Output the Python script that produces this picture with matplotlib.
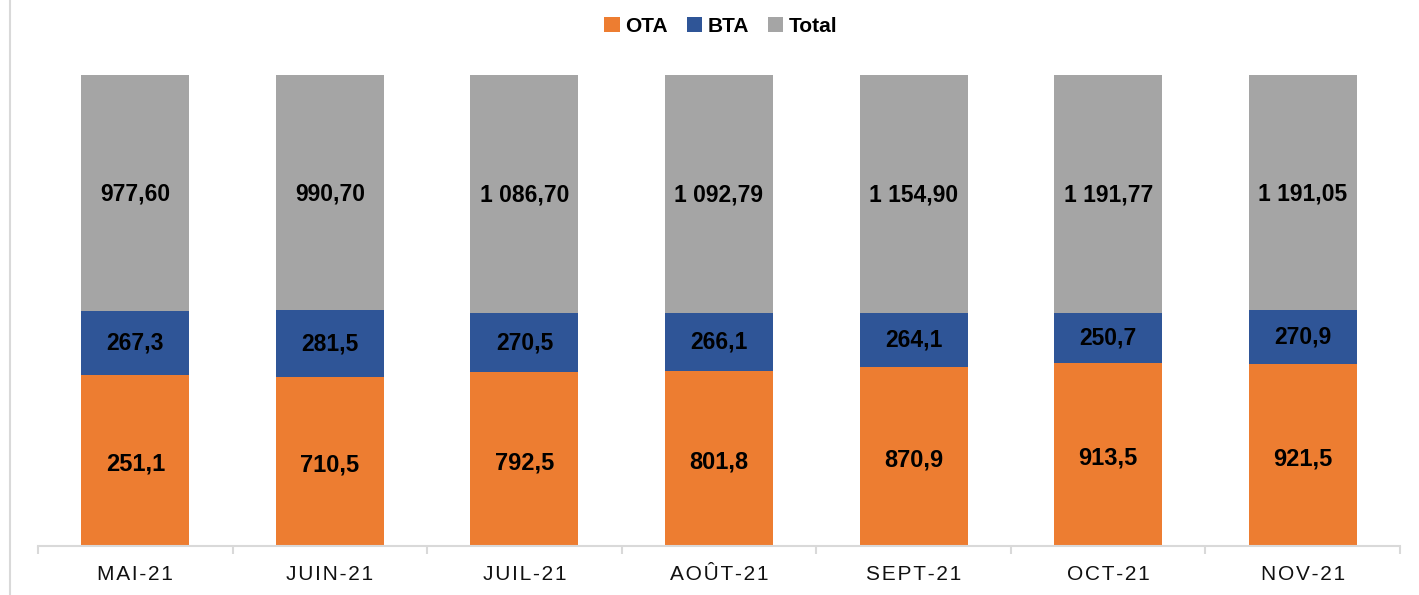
import numpy as np
import matplotlib.pyplot as plt
from matplotlib.lines import Line2D

months = ['MAI-21', 'JUIN-21', 'JUIL-21', 'AOÛT-21', 'SEPT-21', 'OCT-21', 'NOV-21']
# values used for the bar heights (100% stacked)
ota = [710.3, 710.5, 792.5, 801.8, 870.9, 913.5, 921.5]
bta = [267.3, 281.5, 270.5, 266.1, 264.1, 250.7, 270.9]
total = [977.60, 990.70, 1086.70, 1092.79, 1154.90, 1191.77, 1191.05]
# labels as printed on the chart
ota_labels = ['251,1', '710,5', '792,5', '801,8', '870,9', '913,5', '921,5']
bta_labels = ['267,3', '281,5', '270,5', '266,1', '264,1', '250,7', '270,9']
total_labels = ['977,60', '990,70', '1 086,70', '1 092,79', '1 154,90', '1 191,77', '1 191,05']

plt.rcParams['font.family'] = ['Liberation Sans', 'DejaVu Sans']

c_ota = '#ED7D31'
c_bta = '#2F5597'
c_tot = '#A5A5A5'

ota = np.array(ota)
bta = np.array(bta)
total = np.array(total)
s = ota + bta + total
p_ota = ota / s
p_bta = bta / s
p_tot = total / s

fig = plt.figure(figsize=(14.19, 5.95), dpi=100)
ax = fig.add_axes([38 / 1419, 1 - 546 / 595, (1400 - 38) / 1419, (546 - 75) / 595])
x = np.arange(len(months))
w = 0.555
ax.bar(x, p_ota, w, color=c_ota, label='OTA')
ax.bar(x, p_bta, w, bottom=p_ota, color=c_bta, label='BTA')
ax.bar(x, p_tot, w, bottom=p_ota + p_bta, color=c_tot, label='Total')

for i in range(len(months)):
    ax.text(x[i], p_ota[i] * 0.48, ota_labels[i], ha='center', va='center',
            fontsize=17, fontweight='bold')
    ax.text(x[i], p_ota[i] + p_bta[i] / 2, bta_labels[i], ha='center', va='center',
            fontsize=16.5, fontweight='bold')
    ax.text(x[i], p_ota[i] + p_bta[i] + p_tot[i] * 0.495, total_labels[i], ha='center', va='center',
            fontsize=16.5, fontweight='bold')

ax.set_xlim(-0.5, len(months) - 0.5)
ax.set_ylim(0, 1)
ax.set_yticks([])
ax.set_xticks(x)
ax.set_xticklabels(['\u200a'.join(m) for m in months], fontsize=15, color='#111111')
ax.tick_params(axis='x', which='major', length=0, pad=14)
ax.set_xticks(np.arange(-0.5, len(months)), minor=True)
ax.tick_params(axis='x', which='minor', length=6, color='#D9D9D9', width=1.5)
for sp in ['top', 'right', 'left']:
    ax.spines[sp].set_visible(False)
ax.spines['bottom'].set_color('#D9D9D9')
ax.spines['bottom'].set_linewidth(1.5)

fig.legend(loc='center', bbox_to_anchor=(0.508, 1 - 26 / 595), ncol=3, frameon=False,
           prop={'weight': 'bold', 'size': 15}, handlelength=0.75, handleheight=0.75,
           handletextpad=0.25, columnspacing=0.9)

fig.add_artist(Line2D([10 / 1419, 10 / 1419], [0, 1], color='#D9D9D9', lw=1.5))

fig.savefig('out.png', dpi=100)
